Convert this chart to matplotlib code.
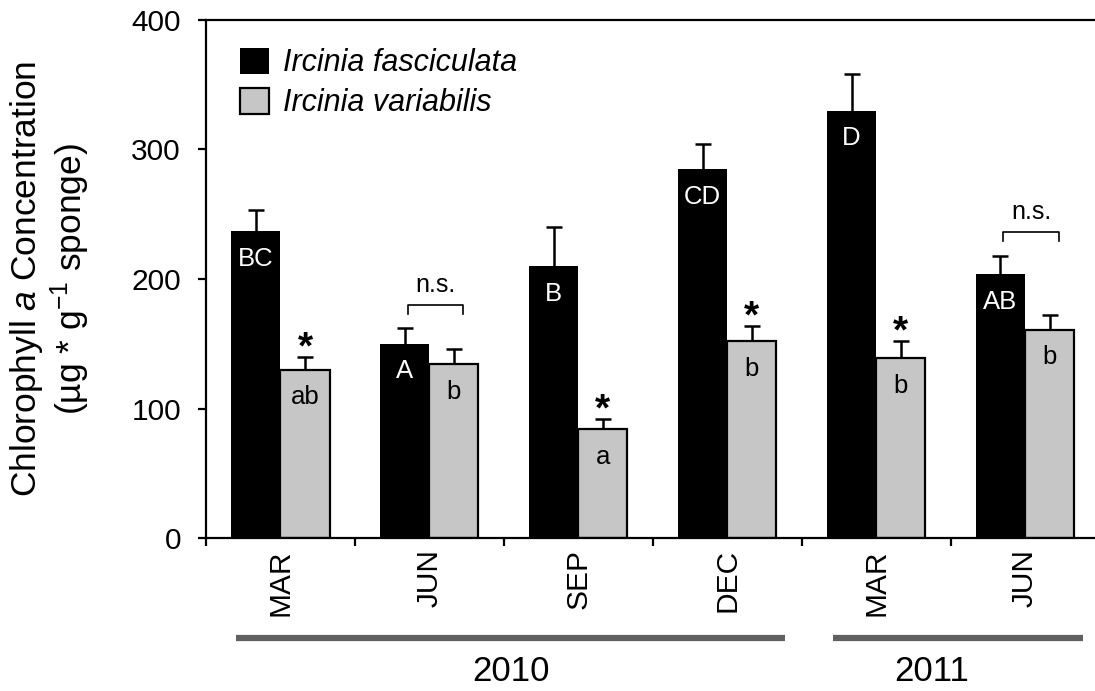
import matplotlib
matplotlib.use("Agg")
import matplotlib.pyplot as plt
import matplotlib.transforms as mtransforms
import numpy as np

plt.rcParams['font.family'] = ['Liberation Sans', 'DejaVu Sans']
plt.rcParams['mathtext.fontset'] = 'custom'
plt.rcParams['mathtext.rm'] = 'Liberation Sans'
plt.rcParams['mathtext.it'] = 'Liberation Sans:italic'

# datos
meses = ["MAR", "JUN", "SEP", "DEC", "MAR", "JUN"]
fasciculata = [237, 150, 210, 285, 330, 204]
fasciculata_err = [16, 12, 30, 19, 28, 14]
variabilis = [130, 134, 84, 152, 139, 161]
variabilis_err = [10, 12, 8, 12, 13, 11]
letras_fasc = ["BC", "A", "B", "CD", "D", "AB"]
letras_var = ["ab", "b", "a", "b", "b", "b"]
significativo = [True, False, True, True, True, False]
anios = ["2010", "2011"]
anio_rango = [(-0.30, 3.39), (3.71, 5.39)]
anio_texto_x = [1.55, 4.37]

gris = "#c6c6c6"
x = np.arange(len(meses))
ancho = 0.33

fig = plt.figure(figsize=(10.95, 6.91), dpi=100)
ax = fig.add_axes([0.1881, 0.2214, 0.8119, 0.7497])

b1 = ax.bar(x - ancho / 2, fasciculata, ancho, color="black", edgecolor="black",
            linewidth=0, label="Ircinia fasciculata", zorder=2)
b2 = ax.bar(x + ancho / 2, variabilis, ancho, color=gris, edgecolor="black",
            linewidth=1.6, label="Ircinia variabilis", zorder=2)

# barras de error solo hacia arriba (se oculta el cap inferior)
for xs_b, vals, errs in [(x - ancho / 2, fasciculata, fasciculata_err),
                         (x + ancho / 2, variabilis, variabilis_err)]:
    eb = ax.errorbar(xs_b, vals, yerr=[[0] * len(x), errs], fmt="none", ecolor="black",
                     elinewidth=1.8, capsize=5.5, capthick=1.8, zorder=1)
    eb[1][0].set_visible(False)

# letras dentro de las barras
for i in range(len(x)):
    ax.annotate(letras_fasc[i], (x[i] - ancho / 2, fasciculata[i]), xytext=(0, -25),
                textcoords="offset points", ha="center", va="baseline",
                color="white", fontsize=18.5, zorder=3)
    ax.annotate(letras_var[i], (x[i] + ancho / 2, variabilis[i]), xytext=(0, -25),
                textcoords="offset points", ha="center", va="baseline",
                color="black", fontsize=18.5, zorder=3)
    tope = variabilis[i] + variabilis_err[i]
    if significativo[i]:
        ax.annotate("*", (x[i] + ancho / 2, tope), xytext=(0, -1),
                    textcoords="offset points", ha="center", va="baseline",
                    fontsize=28, fontweight="bold")
    else:
        y_br = max(fasciculata[i] + fasciculata_err[i], tope) + 18
        xs = [x[i] - ancho / 2 + 0.02, x[i] - ancho / 2 + 0.02,
              x[i] + ancho / 2 + 0.06, x[i] + ancho / 2 + 0.06]
        ax.plot(xs, [y_br - 7, y_br, y_br, y_br - 7], color="black", lw=1.2)
        ax.annotate("n.s.", ((xs[0] + xs[-1]) / 2, y_br), xytext=(0, 6),
                    textcoords="offset points", ha="center", va="bottom", fontsize=18)

ax.set_ylim(0, 400)
ax.set_xlim(-0.5, 5.47)
ax.set_yticks([0, 100, 200, 300, 400])
ax.tick_params(axis="y", labelsize=21.5, length=6, width=1.6, pad=12, direction="out")

ax.set_xticks(np.arange(-0.5, 5.0, 1.0))
ax.set_xticklabels([])
ax.tick_params(axis="x", which="major", length=6, width=1.6, direction="out")
ax.set_xticks(x, minor=True)
ax.set_xticklabels(meses, minor=True, rotation=90, fontsize=21.5)
ax.tick_params(axis="x", which="minor", length=0, pad=8)

for lado in ["left", "bottom", "top"]:
    ax.spines[lado].set_linewidth(1.6)
ax.spines["right"].set_visible(False)

ax.set_ylabel("Chlorophyll $\\it{a}$ Concentration\n(µg * g$^{-1}$ sponge)",
              fontsize=25.5, linespacing=1.12)
ax.yaxis.set_label_coords(-0.128, 0.5)

leg = ax.legend(handles=[b1, b2], loc="upper left", bbox_to_anchor=(0.025, 0.97),
                frameon=False, fontsize=22, handlelength=0.95, handleheight=0.95,
                handletextpad=0.45, labelspacing=0.3, borderaxespad=0)
for t in leg.get_texts():
    t.set_fontstyle("italic")

# lineas y etiquetas de anio bajo el eje
trans = mtransforms.blended_transform_factory(ax.transData, ax.transAxes)
for anio, (x0, x1), xt in zip(anios, anio_rango, anio_texto_x):
    ax.plot([x0, x1], [-0.193, -0.193], color="#606060", lw=4.5,
            transform=trans, clip_on=False, solid_capstyle="butt")
    ax.text(xt, -0.257, anio, transform=trans, ha="center", va="center", fontsize=25)

plt.savefig("out.png", dpi=100)
